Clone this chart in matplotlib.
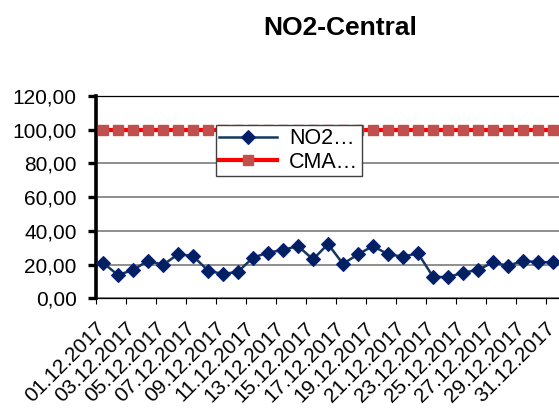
import numpy as np
import pandas as pd
import matplotlib
matplotlib.use("Agg")
import matplotlib.pyplot as plt
from matplotlib.ticker import FuncFormatter
from matplotlib.transforms import ScaledTranslation

plt.rcParams['font.family'] = ['Liberation Sans', 'DejaVu Sans']

# daily NO2 means, December 2017
dates = list(pd.date_range('2017-12-01', '2017-12-31').strftime('%d.%m.%Y'))
no2 = [21.1, 13.8, 16.8, 22.3, 19.8, 26.1, 25.1, 16.4, 14.4, 15.8,
       24.1, 27.1, 28.7, 31.0, 23.1, 32.2, 20.4, 26.1, 31.0, 26.1,
       24.7, 26.7, 12.8, 12.5, 15.2, 16.8, 21.4, 19.2, 22.3, 21.4, 21.4]
cma = [100.0] * 31
series_names = ['NO2…', 'CMA…']
title = 'NO2-Central'

W, H = 559, 409
fig = plt.figure(figsize=(W / 100, H / 100), dpi=100)
ax = fig.add_axes([95.5 / W, (H - 298.3) / H, 465 / W, 202.3 / H])

x = np.arange(1, len(dates) + 1)

ax.plot(x, cma, color='#ff0000', lw=3, marker='s', ms=7.5,
        mfc='#c0504d', mec='#c0504d', label=series_names[1], zorder=3)
ax.plot(x, no2, color='#17375e', lw=1.8, marker='D', ms=7.6,
        mfc='#002060', mec='#0a1f80', mew=0.8, label=series_names[0], zorder=4)

ax.set_xlim(0.5, len(dates) + 0.5)
ax.set_ylim(0, 120)
ax.set_yticks(np.arange(0, 121, 20))
ax.yaxis.set_major_formatter(FuncFormatter(lambda v, p: f'{v:.2f}'.replace('.', ',')))
ax.yaxis.grid(True, color='#707070', lw=1.1)
ax.set_axisbelow(True)

# ticks on category borders, labels on every second day
ax.set_xticks(np.arange(0.5, len(dates) + 0.5, 2))
ax.set_xticklabels([])
ax.set_xticks(x[::2], minor=True)
ax.set_xticklabels(dates[::2], minor=True, rotation=45, ha='right', va='top',
                   rotation_mode='anchor', fontsize=15)
ax.tick_params(axis='x', which='major', direction='out', length=4.5, width=0.8, color='black')
ax.tick_params(axis='x', which='minor', length=0, pad=11)
ax.tick_params(axis='y', direction='out', length=5.5, width=2.4, pad=8, labelsize=15)

shift = ScaledTranslation(-0.08, -0.05, fig.dpi_scale_trans)
for lab in ax.get_xticklabels(minor=True):
    lab.set_transform(lab.get_transform() + shift)

ax.spines['left'].set_linewidth(2.6)
ax.spines['bottom'].set_linewidth(0.9)
ax.spines['top'].set_linewidth(0.9)
ax.spines['right'].set_visible(False)

handles, labels = ax.get_legend_handles_labels()
leg = ax.legend(handles[::-1], labels[::-1], loc='upper left',
                bbox_to_anchor=(216 / W, 1 - 125 / H), bbox_transform=fig.transFigure,
                fontsize=15.5, frameon=True, fancybox=False, framealpha=1,
                edgecolor='#404040', borderpad=0.15, labelspacing=0.12,
                handlelength=2.7, handletextpad=0.55, borderaxespad=0)
leg.get_frame().set_linewidth(1)

fig.text(340 / W, (H - 35) / H, title, ha='center', va='baseline',
         fontsize=19, fontweight='bold')

fig.savefig('out.png', dpi=100)
